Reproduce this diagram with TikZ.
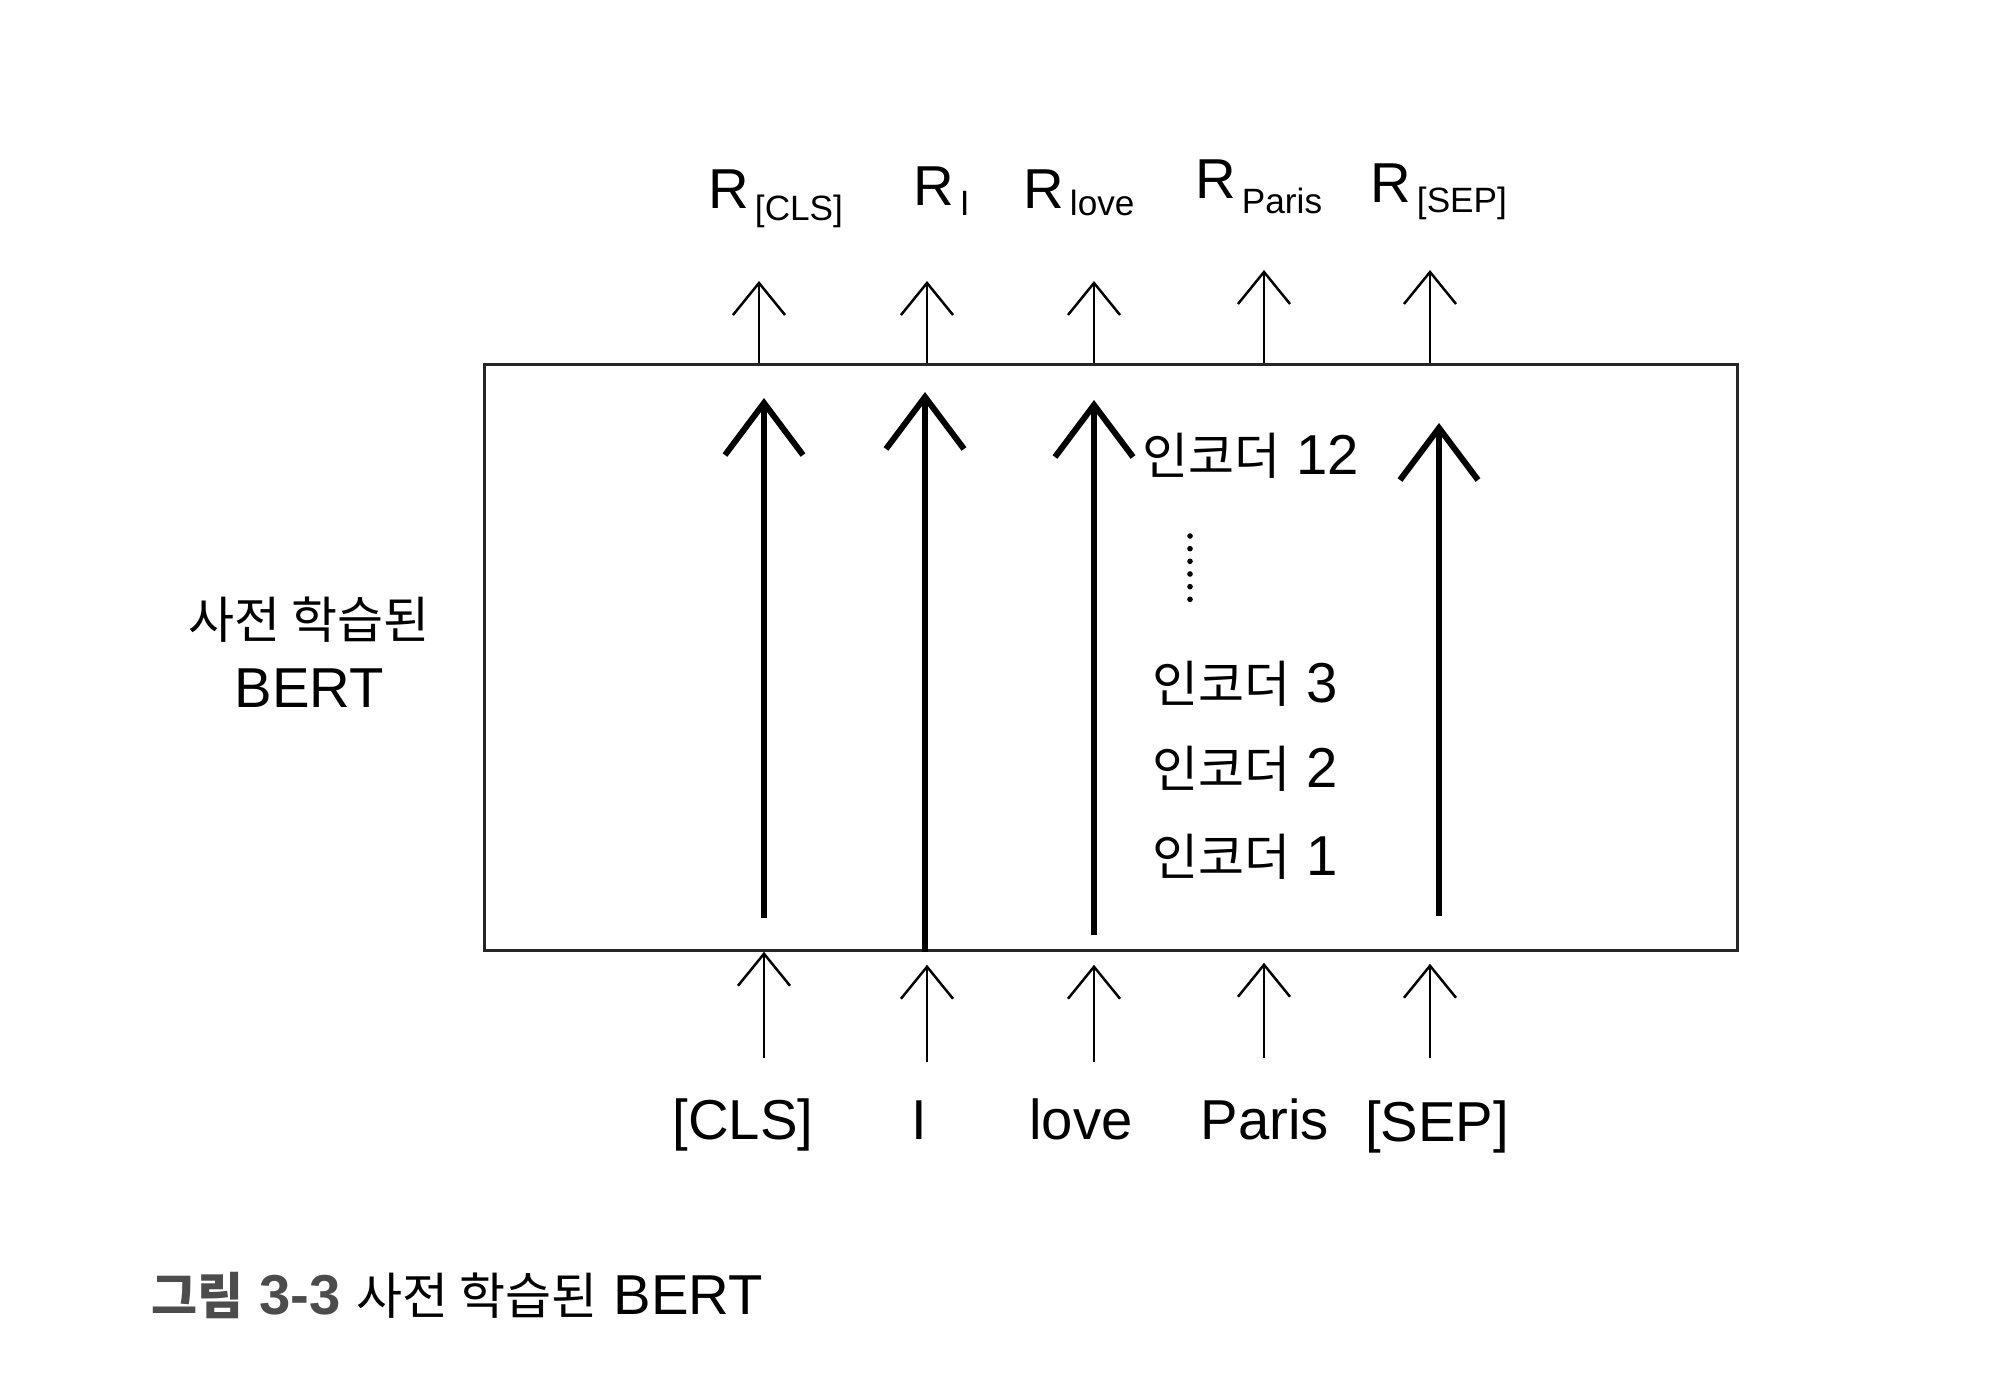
\documentclass[tikz,border=0pt]{standalone}
\usepackage{fontspec}
\setmainfont{Liberation Sans}
\newfontfamily\kr{Noto Sans CJK KR}[Scale=0.89]
\usetikzlibrary{arrows.meta,positioning,calc}
\newcommand{\rsub}[2][3pt]{\kern1.6pt\raisebox{-#1}{\fontsize{10}{12}\selectfont #2}}

\begin{document}
\begin{tikzpicture}[x=0.01cm, y=-0.01cm,
    every node/.style={font=\fontsize{16}{19.5}\selectfont, inner sep=0pt},
    box/.style={rectangle, draw=black!85, line width=0.9pt,
        minimum width=12.52cm, minimum height=5.85cm},
    word/.style={anchor=base},
    rlabel/.style={anchor=base west},
    enc/.style={anchor=base west},
    thinarr/.style={-{Straight Barb[length=3.2mm,width=5.2mm]}, line width=0.7pt},
    thickarr/.style={-{Straight Barb[length=5.2mm,width=7.8mm]}, line width=1.7pt},
    vdots/.style={line width=1.6pt, line cap=round, dash pattern=on 0pt off 3.6pt}
]
    \useasboundingbox (0,0) rectangle (2000,1393);

    % Pre-trained BERT block
    \node[box] (bert) at (1111,657.5) {};
    \node[align=center] (bertlbl) at (309,652) {{\kr 사전 학습된}\\BERT};

    % Input tokens
    \node[word] (w1) at (743,1139) {[CLS]};
    \node[word] (w2) at (919,1139) {I};
    \node[word] (w3) at (1081,1139) {love};
    \node[word] (w4) at (1265,1139) {Paris};
    \node[word] (w5) at (1437,1141) {[SEP]};

    % Output representations
    \node[rlabel] (r1) at (708,208) {R\rsub[3.5pt]{[CLS]}};
    \node[rlabel] (r2) at (913,205) {R\rsub{I}};
    \node[rlabel] (r3) at (1023,208) {R\rsub[2pt]{love}};
    \node[rlabel] (r4) at (1195,198) {R\rsub[4.5pt]{Paris}};
    \node[rlabel] (r5) at (1370,202) {R\rsub{[SEP]}};

    % Encoder stack
    \node[enc] (enc12) at (1142,474) {{\kr 인코더} 12};
    \node[enc] (enc3) at (1152,702) {{\kr 인코더} 3};
    \node[enc] (enc2) at (1152,787) {{\kr 인코더} 2};
    \node[enc] (enc1) at (1152,875) {{\kr 인코더} 1};
    \draw[vdots] (1190,536) -- (1190,600);

    % Arrow ends
    \coordinate (i1) at (764,1058);
    \coordinate (i2) at (927,1062);
    \coordinate (i3) at (1094,1062);
    \coordinate (i4) at (1264,1058);
    \coordinate (i5) at (1430,1058);
    \coordinate (o1) at (759,281);
    \coordinate (o2) at (927,281);
    \coordinate (o3) at (1094,281);
    \coordinate (o4) at (1264,270);
    \coordinate (o5) at (1430,270);

    % Tokens into BERT
    \draw[thinarr] (i1) -- (i1 |- bert.south);
    \draw[thinarr, shorten >=1.3mm] (i2) -- (i2 |- bert.south);
    \draw[thinarr, shorten >=1.3mm] (i3) -- (i3 |- bert.south);
    \draw[thinarr, shorten >=1.1mm] (i4) -- (i4 |- bert.south);
    \draw[thinarr, shorten >=1.2mm] (i5) -- (i5 |- bert.south);

    % BERT to representations
    \draw[thinarr] (o1 |- bert.north) -- (o1);
    \draw[thinarr] (o2 |- bert.north) -- (o2);
    \draw[thinarr] (o3 |- bert.north) -- (o3);
    \draw[thinarr] (o4 |- bert.north) -- (o4);
    \draw[thinarr] (o5 |- bert.north) -- (o5);

    % Flow through the encoders
    \coordinate (s1) at (764,918);   \coordinate (e1) at (764,398);
    \coordinate (e2) at (925,392);
    \coordinate (s3) at (1094,935);  \coordinate (e3) at (1094,400);
    \coordinate (s5) at (1439,916);  \coordinate (e5) at (1439,423);
    \draw[thickarr] (s1) -- (e1);
    \draw[thickarr] (e2 |- bert.south) -- (e2);
    \draw[thickarr] (s3) -- (e3);
    \draw[thickarr] (s5) -- (e5);

    % Caption
    \node[anchor=base west] (caption) at (151,1314)
        {\textcolor{black!70}{{\kr\bfseries 그림} \textbf{3-3}} {\kr 사전 학습된} BERT};
\end{tikzpicture}
\end{document}
